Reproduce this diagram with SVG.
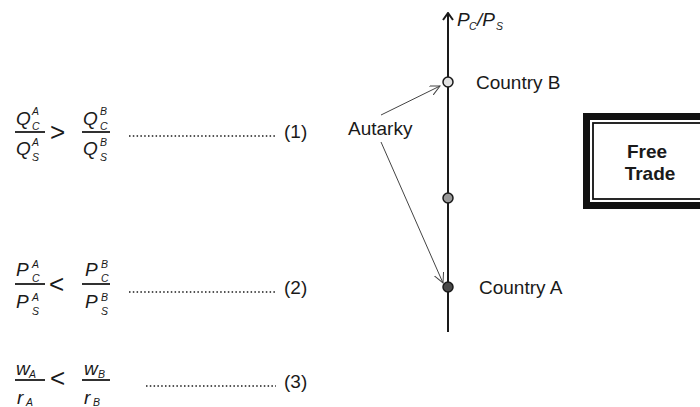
<svg xmlns="http://www.w3.org/2000/svg" width="700" height="407" viewBox="0 0 700 407">
  <style>
    .t { font-family: "Liberation Sans", Arial, sans-serif; fill: #1a1a1a; font-size: 19px; }
    .v { font-family: "Liberation Sans", Arial, sans-serif; font-style: italic; fill: #1a1a1a; font-size: 19px; }
    .s { font-family: "Liberation Sans", Arial, sans-serif; font-style: italic; fill: #1a1a1a; font-size: 10.5px; }
    .op { font-family: "Liberation Sans", Arial, sans-serif; fill: #1a1a1a; font-size: 26px; }
    .bar { stroke: #1a1a1a; stroke-width: 1.8; }
    .dots { stroke: #1a1a1a; stroke-width: 1.6; stroke-dasharray: 1.5 2.3; }
    .ptr { stroke: #444; stroke-width: 1; fill: none; }
  </style>
  <defs>
    <marker id="open" markerWidth="12" markerHeight="12" refX="10" refY="5" orient="auto" markerUnits="userSpaceOnUse">
      <path d="M0,0 L10,5 L0,10" fill="none" stroke="#444" stroke-width="1"/>
    </marker>
    <marker id="axisHead" markerWidth="14" markerHeight="14" refX="6" refY="1" orient="0" markerUnits="userSpaceOnUse">
      <path d="M1,8 L6,1 L11,8" fill="none" stroke="#1a1a1a" stroke-width="2"/>
    </marker>
  </defs>

  <!-- equation (1): output ratios -->
  <g id="eq1">
    <text class="v" x="16" y="125">Q</text><text class="s" x="32" y="115">A</text><text class="s" x="32" y="130">C</text>
    <line class="bar" x1="15" y1="132" x2="45" y2="132"/>
    <text class="v" x="16" y="155">Q</text><text class="s" x="32" y="146">A</text><text class="s" x="32" y="161">S</text>
    <text class="op" x="50" y="141">&gt;</text>
    <text class="v" x="83" y="125">Q</text><text class="s" x="100" y="115">B</text><text class="s" x="100" y="130">C</text>
    <line class="bar" x1="82" y1="132" x2="110" y2="132"/>
    <text class="v" x="83" y="155">Q</text><text class="s" x="100" y="146">B</text><text class="s" x="100" y="161">S</text>
    <line class="dots" x1="129" y1="136" x2="276" y2="136"/>
    <text class="t" x="284" y="138">(1)</text>
  </g>

  <!-- equation (2): autarky price ratios -->
  <g id="eq2">
    <text class="v" x="16" y="276">P</text><text class="s" x="32" y="268">A</text><text class="s" x="32" y="282">C</text>
    <line class="bar" x1="15" y1="284" x2="45" y2="284"/>
    <text class="v" x="16" y="308">P</text><text class="s" x="32" y="301">A</text><text class="s" x="32" y="315">S</text>
    <text class="op" x="49" y="293">&lt;</text>
    <text class="v" x="85" y="276">P</text><text class="s" x="101" y="268">B</text><text class="s" x="101" y="282">C</text>
    <line class="bar" x1="82" y1="284" x2="110" y2="284"/>
    <text class="v" x="85" y="308">P</text><text class="s" x="101" y="301">B</text><text class="s" x="101" y="315">S</text>
    <line class="dots" x1="129" y1="292" x2="276" y2="292"/>
    <text class="t" x="284" y="294">(2)</text>
  </g>

  <!-- equation (3): factor price ratios -->
  <g id="eq3">
    <text class="v" x="16" y="375" font-size="16">w</text><text class="s" x="29" y="378">A</text>
    <line class="bar" x1="15" y1="380" x2="45" y2="380"/>
    <text class="v" x="17" y="404" font-size="16">r</text><text class="s" x="26" y="406">A</text>
    <text class="op" x="50" y="387">&lt;</text>
    <text class="v" x="84" y="375" font-size="16">w</text><text class="s" x="98" y="378">B</text>
    <line class="bar" x1="82" y1="380" x2="110" y2="380"/>
    <text class="v" x="84" y="404" font-size="16">r</text><text class="s" x="93" y="406">B</text>
    <line class="dots" x1="146" y1="386" x2="276" y2="386"/>
    <text class="t" x="284" y="388">(3)</text>
  </g>

  <!-- price axis with autarky points -->
  <g id="axis">
    <line x1="448" y1="332" x2="448" y2="13" stroke="#1a1a1a" stroke-width="2" marker-end="url(#axisHead)"/>
    <text class="v" x="457" y="26" font-size="17">P</text><text class="s" x="469" y="30" font-size="10">C</text>
    <text class="v" x="477" y="26" font-size="17">/P</text><text class="s" x="496" y="30" font-size="10">S</text>
  </g>

  <g id="countryB">
    <circle cx="448" cy="82" r="5" fill="#e2e2e2" stroke="#1a1a1a" stroke-width="1.5"/>
    <text class="t" x="476" y="89">Country B</text>
  </g>

  <g id="middle">
    <circle cx="448" cy="198" r="5" fill="#9a9a9a" stroke="#1a1a1a" stroke-width="1.5"/>
  </g>

  <g id="countryA">
    <circle cx="448" cy="287" r="5" fill="#4a4a4a" stroke="#1a1a1a" stroke-width="1.5"/>
    <text class="t" x="479" y="294">Country A</text>
  </g>

  <g id="autarky">
    <text class="t" x="348" y="135">Autarky</text>
  </g>

  <g id="connectors">
    <line class="ptr" x1="381" y1="115" x2="440" y2="86" marker-end="url(#open)"/>
    <line class="ptr" x1="381" y1="142" x2="443" y2="283" marker-end="url(#open)"/>
  </g>

  <!-- free trade box, runs off the right edge -->
  <g id="freeTrade">
    <rect x="586.5" y="116.5" width="130" height="89" fill="#fff" stroke="#111" stroke-width="7"/>
    <rect x="593" y="123" width="120" height="76" fill="none" stroke="#111" stroke-width="1.8"/>
    <text class="t" x="647" y="158" font-weight="bold" text-anchor="middle">Free</text>
    <text class="t" x="650" y="180" font-weight="bold" text-anchor="middle">Trade</text>
  </g>
</svg>
